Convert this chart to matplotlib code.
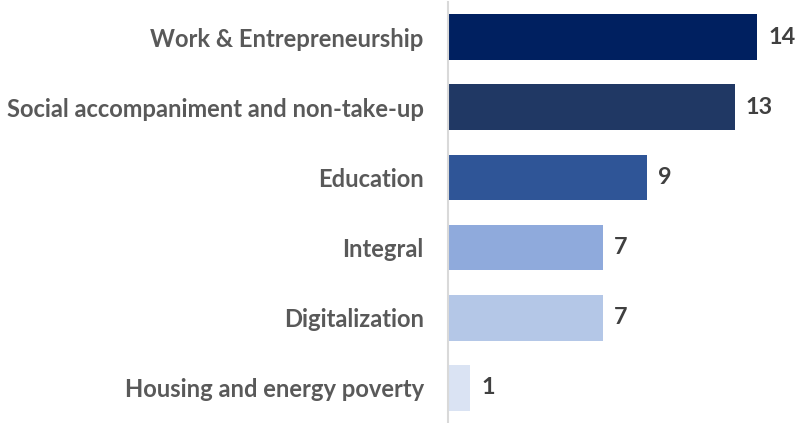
import matplotlib
matplotlib.use("Agg")
import matplotlib.pyplot as plt

categories = ["Work & Entrepreneurship", "Social accompaniment and non-take-up",
              "Education", "Integral", "Digitalization", "Housing and energy poverty"]
values = [14, 13, 9, 7, 7, 1]
colors = ["#002060", "#203864", "#2F5597", "#8FAADC", "#B4C7E7", "#DAE3F3"]

fig = plt.figure(figsize=(7.95, 4.23), dpi=100)
px_per_unit = (757 - 448) / 14
xmax = 15
ax = fig.add_axes([448 / 795, 0, xmax * px_per_unit / 795, 421 / 423])

y = list(range(len(categories)))
ax.barh(y, values, height=0.65, color=colors)
ax.set_xlim(0, xmax)
ax.set_ylim(len(categories) - 0.5, -0.5)
ax.set_yticks(y)
ax.set_yticklabels(categories, fontfamily="Lato", fontweight="bold", fontsize=17.1, color="#595959")
ax.tick_params(axis="y", length=0, pad=17.5)
ax.set_xticks([])
for s in ["top", "right", "bottom"]:
    ax.spines[s].set_visible(False)
ax.spines["left"].set_color("#D9D9D9")
ax.spines["left"].set_linewidth(1.5)

for yi, v in zip(y, values):
    ax.text(v + 0.5, yi, str(v), va="center", ha="left", fontfamily="Lato",
            fontweight="bold", fontsize=16.8, color="#404040")

fig.savefig("out.png", dpi=100)
